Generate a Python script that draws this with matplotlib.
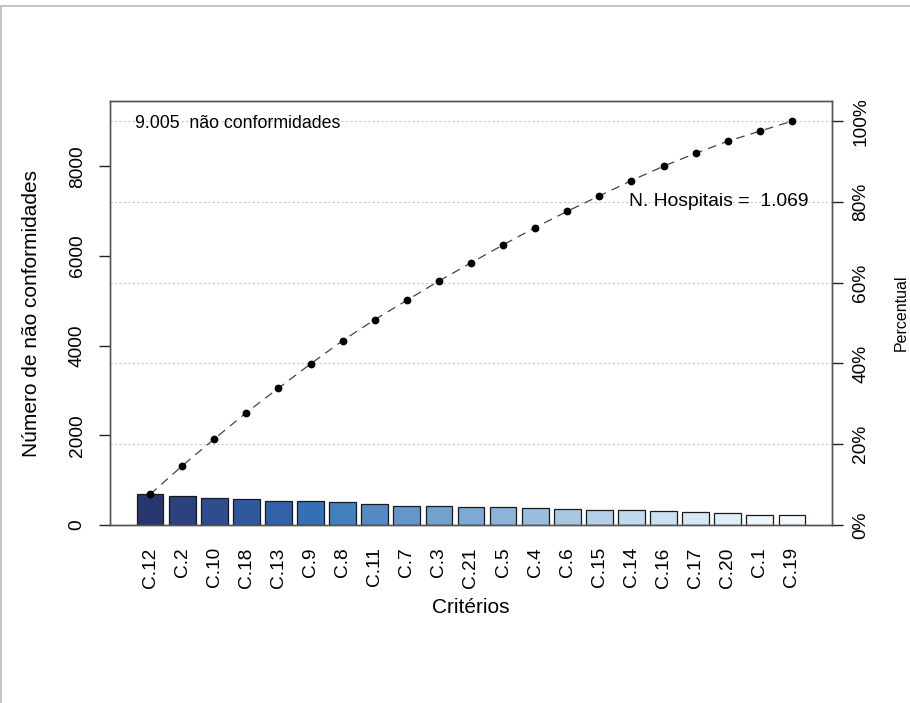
import matplotlib
matplotlib.use("Agg")
import matplotlib.pyplot as plt
from matplotlib.lines import Line2D
import numpy as np

plt.rcParams['font.family'] = ['Liberation Sans', 'DejaVu Sans']

# ---- data ----
criterios = ["C.12", "C.2", "C.10", "C.18", "C.13", "C.9", "C.8", "C.11", "C.7", "C.3",
             "C.21", "C.5", "C.4", "C.6", "C.15", "C.14", "C.16", "C.17", "C.20", "C.1", "C.19"]
nao_conformidades = [682, 638, 600, 587, 545, 540, 520, 467, 431, 431,
                     405, 400, 387, 364, 342, 342, 320, 289, 267, 226, 222]
total_label = "9.005"
hospitais_label = "1.069"
y_ticks = [0, 2000, 4000, 6000, 8000]
pct_ticks = [0, 20, 40, 60, 80, 100]

bar_colors = ["#27366F", "#2B427F", "#2F4D8E", "#30579C", "#3161A8", "#3470B6", "#4380C0",
              "#5489C3", "#6496C9", "#72A1CE", "#7DA9D3", "#8CB3D8", "#9ABDDD", "#A8C8E2",
              "#B5D1E7", "#C0D9EC", "#CCE1F0", "#D7E8F4", "#E1EFF8", "#EEF6FC", "#F4F9FD"]

vals = np.array(nao_conformidades, dtype=float)
total = vals.sum()
cum_pct = np.cumsum(vals) / total * 100
x = np.arange(len(criterios))

W, H = 910, 703
fig = plt.figure(figsize=(W / 100, H / 100), dpi=100)
ax = fig.add_axes([110 / W, (H - 525) / H, 722 / W, 424 / H])

ymax = total * 1.05
ax.set_xlim(-1.25, len(criterios) - 1 + 1.25)
ax.set_ylim(0, ymax)

# grid at percentage levels
for p in pct_ticks[1:]:
    ax.axhline(p / 100 * total, color="#c8c8c8", lw=0.8, ls=(0, (2, 2)), zorder=0)

ax.bar(x, vals, width=1 / 1.2, color=bar_colors, edgecolor="#1a1a1a", linewidth=0.9, zorder=2)

ax2 = ax.twinx()
ax2.set_ylim(0, 105)
ax2.plot(x, cum_pct, color="#444444", lw=0.9, ls=(0, (7, 5)), zorder=3)
ax2.plot(x, cum_pct, ls="none", marker="o", ms=4.6, color="black", zorder=4)

for a in (ax, ax2):
    for s in a.spines.values():
        s.set_color("#555555")
        s.set_linewidth(1.0)

ax.set_xticks(x)
ax.set_xticklabels(criterios, rotation=90, fontsize=13.8)
ax.tick_params(axis="x", length=0, pad=16)
ax.set_yticks(y_ticks)
ax.set_yticklabels([str(v) for v in y_ticks], rotation=90, va="center", fontsize=13.8)
ax.tick_params(axis="y", length=8, width=1, color="#222222", pad=9.5)

ax2.set_yticks(pct_ticks)
ax2.set_yticklabels([f"{p}%" for p in pct_ticks], rotation=90, va="center", fontsize=13.8)
ax2.tick_params(axis="y", length=8, width=1, color="#222222", pad=6.5)

ax.set_xlabel("Critérios", fontsize=15, labelpad=7.5)
ax.set_ylabel("Número de não conformidades", fontsize=15, labelpad=20)
ax2.set_ylabel("Percentual", fontsize=11.5, labelpad=18)

ax.text(0.035, 0.948, f"{total_label}  não conformidades", transform=ax.transAxes,
        ha="left", va="center", fontsize=12.8)
ax2.text(0.967, 0.762, f"N. Hospitais =  {hospitais_label}", transform=ax.transAxes,
         ha="right", va="center", fontsize=13.9)

# page frame
fig.add_artist(Line2D([0, 1], [1 - 5.5 / H, 1 - 5.5 / H], transform=fig.transFigure,
                      color="#bbbbbb", lw=1.2))
fig.add_artist(Line2D([0.6 / W, 0.6 / W], [0, 1 - 5.5 / H], transform=fig.transFigure,
                      color="#bbbbbb", lw=1.2))

fig.savefig("out.png", dpi=100)
